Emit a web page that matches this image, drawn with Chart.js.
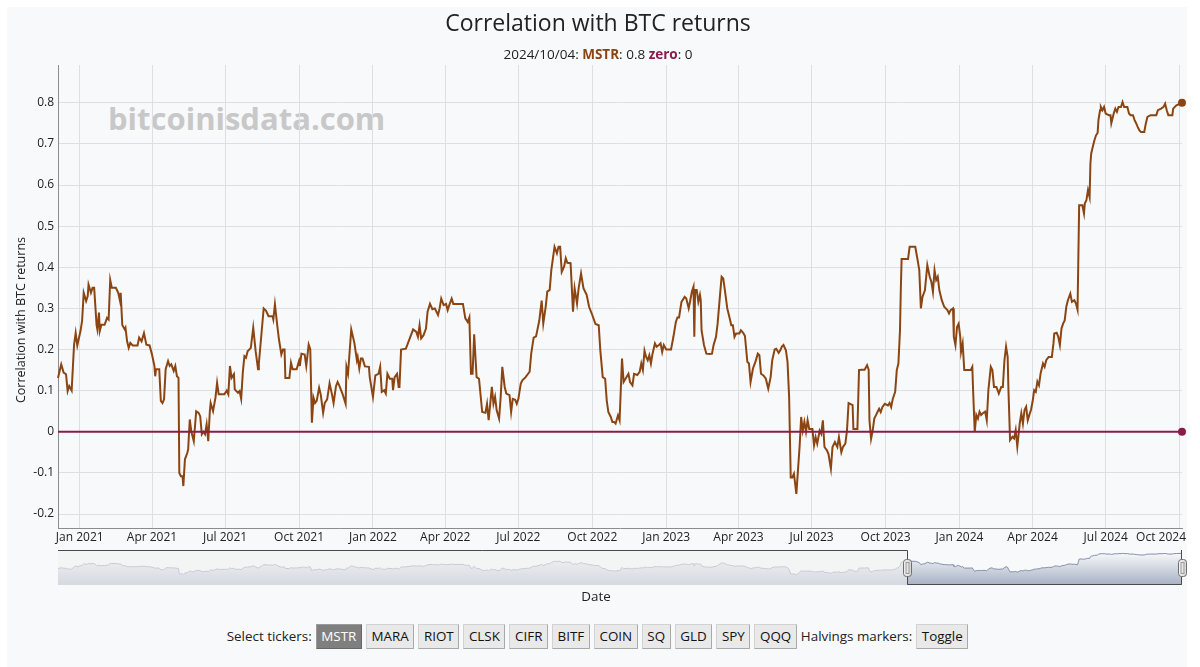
<!DOCTYPE html>
<html>
<head>
<meta charset="utf-8">
<script src="https://cdn.jsdelivr.net/npm/chart.js@4.4.1/dist/chart.umd.min.js"></script>
<style>
  html, body { margin: 0; padding: 0; background: #ffffff; width: 1200px; height: 667px; overflow: hidden; font-family: 'Open Sans', 'Noto Sans', sans-serif; }
  #panel { position: absolute; left: 7px; top: 7px; width: 1180px; height: 660px; background: #f8f9fa; }
  .abs { position: absolute; }
  #title { left: 0; width: 1196px; top: 7px; height: 30px; line-height: 30px; text-align: center; font-size: 23px; color: #222; }
  #legend { left: 0; width: 1196px; top: 45px; height: 18px; line-height: 18px; text-align: center; font-size: 13.5px; color: #222; }
  #legend b { font-weight: 700; }
  #watermark { left: 108px; top: 99px; height: 38px; line-height: 38px; font-size: 31px; font-weight: 700; color: #c8c8c8; white-space: nowrap; }
  #ylabel { left: -129px; top: 311px; width: 300px; height: 18px; line-height: 18px; text-align: center; font-size: 12.5px; color: #222; transform: rotate(-90deg); white-space: nowrap; }
  #mainWrap { left: 0; top: 0; width: 1200px; height: 545px; }
  #navWrap { left: 0; top: 548px; width: 1200px; height: 40px; }
  #xlabel { left: 0; width: 1192px; top: 587px; height: 18px; line-height: 18px; text-align: center; font-size: 13.4px; color: #222; }
  #controls { left: 0; width: 1195px; top: 623px; height: 26px; display: flex; justify-content: center; align-items: center; gap: 4px; font-size: 13.4px; color: #222; white-space: nowrap; }
  .btn { box-sizing: border-box; height: 25px; line-height: 21px; padding: 0 4.6px; font-family: inherit; font-size: 13.4px; color: #111; background: #e9e9e9; border: 1px solid; border-color: #d2d2d2 #a9a9a9 #a9a9a9 #d2d2d2; border-radius: 1px; }
  .btn.active { background: #7f7f7f; color: #ffffff; border-color: #9a9a9a #666 #666 #9a9a9a; }
</style>
</head>
<body>
<div id="panel"></div>
<div id="watermark" class="abs">bitcoinisdata.com</div>
<div id="mainWrap" class="abs"><canvas id="main" width="1200" height="545"></canvas></div>
<div id="navWrap" class="abs"><canvas id="nav" width="1200" height="40"></canvas></div>
<div id="title" class="abs">Correlation with BTC returns</div>
<div id="legend" class="abs"></div>
<div id="ylabel" class="abs">Correlation with BTC returns</div>
<div id="xlabel" class="abs">Date</div>
<div id="controls" class="abs"></div>
<script>
// ---------------- DATA ----------------
const mstrDates = [
 '2020-12-05','2020-12-09','2020-12-12','2020-12-15','2020-12-17','2020-12-19','2020-12-22','2020-12-25','2020-12-27','2020-12-29',
 '2021-01-02','2021-01-04','2021-01-06','2021-01-09','2021-01-11','2021-01-12','2021-01-15','2021-01-17','2021-01-19','2021-01-22',
 '2021-01-23','2021-01-25','2021-01-26','2021-01-28','2021-02-01','2021-02-04','2021-02-06','2021-02-08','2021-02-10','2021-02-15',
 '2021-02-18','2021-02-20','2021-02-21','2021-02-23','2021-02-26','2021-02-27','2021-03-01','2021-03-03','2021-03-05','2021-03-08',
 '2021-03-14','2021-03-16','2021-03-19','2021-03-22','2021-03-25','2021-03-29','2021-04-01','2021-04-04','2021-04-05','2021-04-06',
 '2021-04-10','2021-04-12','2021-04-14','2021-04-16','2021-04-18','2021-04-21','2021-04-23','2021-04-25','2021-04-28','2021-04-30',
 '2021-05-02','2021-05-04','2021-05-05','2021-05-07','2021-05-09','2021-05-10','2021-05-12','2021-05-15','2021-05-16','2021-05-18',
 '2021-05-20','2021-05-23','2021-05-26','2021-05-29','2021-05-31','2021-06-02','2021-06-04','2021-06-06','2021-06-08','2021-06-10',
 '2021-06-12','2021-06-13','2021-06-16','2021-06-19','2021-06-21','2021-06-23','2021-06-30','2021-07-03','2021-07-05','2021-07-07',
 '2021-07-09','2021-07-12','2021-07-13','2021-07-17','2021-07-19','2021-07-21','2021-07-23','2021-07-25','2021-07-27','2021-07-29',
 '2021-08-02','2021-08-05','2021-08-08','2021-08-11','2021-08-12','2021-08-15','2021-08-18','2021-08-21','2021-08-24','2021-08-29',
 '2021-08-30','2021-09-01','2021-09-04','2021-09-06','2021-09-09','2021-09-11','2021-09-13','2021-09-14','2021-09-19','2021-09-21',
 '2021-09-23','2021-09-28','2021-10-01','2021-10-02','2021-10-04','2021-10-08','2021-10-10','2021-10-13','2021-10-15','2021-10-17',
 '2021-10-19','2021-10-21','2021-10-23','2021-10-26','2021-10-28','2021-10-31','2021-11-02','2021-11-05','2021-11-08','2021-11-11',
 '2021-11-13','2021-11-16','2021-11-18','2021-11-20','2021-11-24','2021-11-28','2021-11-29','2021-12-01','2021-12-05','2021-12-09',
 '2021-12-12','2021-12-13','2021-12-15','2021-12-17','2021-12-19','2021-12-22','2021-12-27','2021-12-28','2022-01-01','2022-01-04',
 '2022-01-08','2022-01-10','2022-01-12','2022-01-15','2022-01-17','2022-01-19','2022-01-22','2022-01-25','2022-01-26','2022-01-28',
 '2022-01-31','2022-02-02','2022-02-03','2022-02-05','2022-02-11','2022-02-15','2022-02-20','2022-02-24','2022-02-26','2022-02-28',
 '2022-03-02','2022-03-05','2022-03-08','2022-03-10','2022-03-13','2022-03-16','2022-03-19','2022-03-23','2022-03-25','2022-03-27',
 '2022-03-30','2022-04-02','2022-04-04','2022-04-06','2022-04-09','2022-04-11','2022-04-23','2022-04-26','2022-04-29','2022-05-01',
 '2022-05-03','2022-05-05','2022-05-07','2022-05-10','2022-05-13','2022-05-17','2022-05-21','2022-05-23','2022-05-25','2022-05-27',
 '2022-05-29','2022-05-31','2022-06-02','2022-06-04','2022-06-07','2022-06-09','2022-06-11','2022-06-14','2022-06-16','2022-06-20',
 '2022-06-22','2022-06-24','2022-06-27','2022-06-29','2022-07-01','2022-07-04','2022-07-06','2022-07-10','2022-07-15','2022-07-17',
 '2022-07-20','2022-07-23','2022-07-27','2022-07-30','2022-08-01','2022-08-04','2022-08-06','2022-08-09','2022-08-11','2022-08-15',
 '2022-08-18','2022-08-20','2022-08-22','2022-08-24','2022-08-27','2022-08-29','2022-08-31','2022-09-04','2022-09-07','2022-09-09',
 '2022-09-12','2022-09-14','2022-09-17','2022-09-20','2022-09-24','2022-09-27','2022-10-01','2022-10-05','2022-10-09','2022-10-11',
 '2022-10-14','2022-10-17','2022-10-19','2022-10-21','2022-10-24','2022-10-26','2022-10-28','2022-10-30','2022-11-02','2022-11-04',
 '2022-11-07','2022-11-09','2022-11-15','2022-11-17','2022-11-20','2022-11-22','2022-11-26','2022-11-29','2022-12-01','2022-12-03',
 '2022-12-05','2022-12-07','2022-12-09','2022-12-11','2022-12-13','2022-12-15','2022-12-18','2022-12-20','2022-12-23','2022-12-25',
 '2022-12-27','2022-12-29','2023-01-01','2023-01-07','2023-01-10','2023-01-13','2023-01-15','2023-01-17','2023-01-20','2023-01-24',
 '2023-01-26','2023-01-29','2023-01-31','2023-02-02','2023-02-04','2023-02-05','2023-02-06','2023-02-08','2023-02-10','2023-02-12',
 '2023-02-13','2023-02-14','2023-02-17','2023-02-20','2023-02-24','2023-02-27','2023-03-01','2023-03-04','2023-03-06','2023-03-09',
 '2023-03-11','2023-03-13','2023-03-15','2023-03-18','2023-03-21','2023-03-23','2023-03-25','2023-03-27','2023-03-29','2023-04-02',
 '2023-04-04','2023-04-07','2023-04-09','2023-04-12','2023-04-14','2023-04-16','2023-04-19','2023-04-22','2023-04-25','2023-04-27',
 '2023-04-29','2023-05-02','2023-05-05','2023-05-08','2023-05-11','2023-05-13','2023-05-16','2023-05-18','2023-05-21','2023-05-23',
 '2023-05-25','2023-05-27','2023-05-30','2023-06-01','2023-06-03','2023-06-05','2023-06-07','2023-06-09','2023-06-12','2023-06-14',
 '2023-06-16','2023-06-18','2023-06-20','2023-06-22','2023-06-24','2023-06-26','2023-06-28','2023-07-02','2023-07-04','2023-07-06',
 '2023-07-08','2023-07-11','2023-07-13','2023-07-15','2023-07-17','2023-07-20','2023-07-22','2023-07-25','2023-07-27','2023-07-30',
 '2023-08-02','2023-08-04','2023-08-07','2023-08-09','2023-08-12','2023-08-14','2023-08-16','2023-08-21','2023-08-22','2023-08-27',
 '2023-08-29','2023-09-01','2023-09-05','2023-09-08','2023-09-10','2023-09-11','2023-09-13','2023-09-15','2023-09-17','2023-09-19',
 '2023-09-21','2023-09-23','2023-09-25','2023-09-27','2023-09-30','2023-10-04','2023-10-06','2023-10-08','2023-10-10','2023-10-13',
 '2023-10-15','2023-10-17','2023-10-19','2023-10-20','2023-10-21','2023-10-29','2023-10-31','2023-11-07','2023-11-10','2023-11-12',
 '2023-11-14','2023-11-16','2023-11-19','2023-11-22','2023-11-25','2023-11-27','2023-11-29','2023-12-01','2023-12-03','2023-12-05',
 '2023-12-07','2023-12-10','2023-12-13','2023-12-17','2023-12-19','2023-12-21','2023-12-24','2023-12-25','2023-12-27','2023-12-29',
 '2023-12-31','2024-01-02','2024-01-03','2024-01-05','2024-01-07','2024-01-15','2024-01-17','2024-01-18','2024-01-20','2024-01-22',
 '2024-01-24','2024-01-26','2024-01-28','2024-01-30','2024-02-02','2024-02-04','2024-02-06','2024-02-09','2024-02-11','2024-02-13',
 '2024-02-16','2024-02-19','2024-02-22','2024-02-24','2024-02-26','2024-02-28','2024-03-01','2024-03-02','2024-03-04','2024-03-07',
 '2024-03-09','2024-03-11','2024-03-13','2024-03-16','2024-03-18','2024-03-20','2024-03-22','2024-03-24','2024-03-26','2024-03-28',
 '2024-03-30','2024-04-01','2024-04-03','2024-04-05','2024-04-07','2024-04-09','2024-04-11','2024-04-14','2024-04-16','2024-04-18',
 '2024-04-21','2024-04-25','2024-04-27','2024-04-28','2024-05-01','2024-05-03','2024-05-05','2024-05-07','2024-05-09','2024-05-11',
 '2024-05-13','2024-05-15','2024-05-18','2024-05-20','2024-05-23','2024-05-25','2024-05-27','2024-05-28','2024-05-29','2024-06-02',
 '2024-06-04','2024-06-05','2024-06-07','2024-06-09','2024-06-11','2024-06-12','2024-06-13','2024-06-15','2024-06-17','2024-06-19',
 '2024-06-21','2024-06-22','2024-06-24','2024-06-25','2024-06-27','2024-06-29','2024-07-01','2024-07-05','2024-07-07','2024-07-08',
 '2024-07-11','2024-07-13','2024-07-15','2024-07-17','2024-07-20','2024-07-22','2024-07-24','2024-07-28','2024-07-30','2024-08-01',
 '2024-08-04','2024-08-06','2024-08-08','2024-08-10','2024-08-12','2024-08-14','2024-08-18','2024-08-20','2024-08-22','2024-08-26',
 '2024-09-02','2024-09-04','2024-09-08','2024-09-11','2024-09-13','2024-09-15','2024-09-17','2024-09-22','2024-09-23','2024-09-27',
 '2024-10-04'
];
const mstrValues = [
 0.131,0.164,0.144,0.14,0.099,0.111,0.10,0.212,0.24,0.21,
 0.245,0.27,0.338,0.318,0.33,0.358,0.338,0.35,0.35,0.26,
 0.249,0.29,0.245,0.26,0.26,0.277,0.273,0.369,0.35,0.35,
 0.338,0.32,0.338,0.26,0.249,0.253,0.22,0.204,0.216,0.21,
 0.21,0.229,0.22,0.24,0.212,0.21,0.188,0.16,0.135,0.152,
 0.152,0.075,0.07,0.079,0.152,0.172,0.16,0.164,0.148,0.16,
 0.135,0.131,-0.10,-0.108,-0.108,-0.132,-0.067,-0.051,-0.043,0.03,
 0.0,-0.023,0.05,0.046,0.038,-0.006,0.0,-0.006,0.018,-0.023,
 0.05,0.07,0.05,0.083,0.119,0.091,0.091,0.10,0.091,0.16,
 0.131,0.14,0.103,0.095,0.099,0.08,0.144,0.184,0.18,0.196,
 0.204,0.253,0.196,0.152,0.166,0.233,0.30,0.294,0.281,0.281,
 0.273,0.31,0.257,0.225,0.188,0.20,0.20,0.131,0.131,0.168,
 0.152,0.152,0.172,0.16,0.19,0.188,0.16,0.212,0.20,0.022,
 0.083,0.07,0.075,0.107,0.091,0.046,0.07,0.079,0.118,0.091,
 0.07,0.111,0.121,0.113,0.093,0.068,0.158,0.141,0.249,0.215,
 0.174,0.182,0.154,0.178,0.178,0.159,0.158,0.133,0.085,0.137,
 0.141,0.158,0.097,0.101,0.093,0.141,0.129,0.129,0.101,0.133,
 0.141,0.109,0.109,0.2,0.202,0.223,0.249,0.243,0.231,0.259,
 0.227,0.235,0.251,0.292,0.311,0.298,0.3,0.284,0.3,0.324,
 0.308,0.311,0.296,0.308,0.324,0.311,0.311,0.276,0.267,0.278,
 0.141,0.141,0.237,0.133,0.129,0.048,0.046,0.068,0.028,0.068,
 0.109,0.068,0.085,0.052,0.032,0.085,0.158,0.109,0.093,0.089,
 0.048,0.08,0.078,0.068,0.08,0.117,0.125,0.133,0.146,0.19,
 0.229,0.232,0.27,0.319,0.263,0.304,0.341,0.345,0.393,0.45,
 0.434,0.45,0.45,0.389,0.402,0.422,0.411,0.41,0.292,0.349,
 0.312,0.349,0.385,0.349,0.333,0.304,0.284,0.262,0.259,0.198,
 0.133,0.129,0.076,0.048,0.036,0.024,0.024,0.02,0.04,0.028,
 0.178,0.121,0.141,0.121,0.113,0.141,0.138,0.146,0.166,0.15,
 0.197,0.182,0.174,0.186,0.166,0.19,0.215,0.207,0.211,0.215,
 0.194,0.211,0.2,0.2,0.231,0.267,0.278,0.278,0.316,0.328,
 0.324,0.3,0.32,0.341,0.353,0.231,0.345,0.345,0.316,0.333,
 0.32,0.247,0.211,0.19,0.189,0.19,0.211,0.231,0.263,0.333,
 0.377,0.373,0.345,0.3,0.276,0.259,0.259,0.231,0.239,0.239,
 0.247,0.24,0.233,0.17,0.166,0.121,0.154,0.17,0.19,0.186,
 0.141,0.137,0.129,0.105,0.133,0.174,0.2,0.202,0.192,0.198,
 0.207,0.211,0.198,0.17,0.085,-0.111,-0.111,-0.102,-0.151,-0.094,
 -0.037,0.036,0.003,0.024,0.0,0.028,0.007,0.007,-0.033,-0.013,
 -0.029,0.003,-0.005,0.028,-0.037,-0.045,-0.054,-0.09,-0.037,-0.025,
 -0.037,-0.013,-0.05,-0.037,-0.029,0.003,0.07,0.065,0.007,0.007,
 0.15,0.151,0.151,0.162,0.151,0.028,-0.017,0.003,0.032,0.04,
 0.048,0.056,0.048,0.06,0.068,0.064,0.07,0.06,0.08,0.097,
 0.15,0.166,0.247,0.345,0.42,0.42,0.45,0.45,0.417,0.393,
 0.3,0.328,0.344,0.405,0.377,0.365,0.34,0.393,0.369,0.377,
 0.344,0.32,0.304,0.296,0.288,0.296,0.3,0.231,0.211,0.255,
 0.263,0.231,0.194,0.215,0.15,0.15,0.158,0.101,0.0,0.041,
 0.032,0.049,0.041,0.045,0.049,0.028,0.101,0.158,0.15,0.109,
 0.109,0.093,0.109,0.109,0.174,0.207,0.182,0.101,-0.02,-0.012,
 -0.016,0.004,-0.036,0.02,0.045,0.02,0.053,0.061,0.028,0.041,
 0.053,0.073,0.101,0.097,0.122,0.113,0.142,0.166,0.158,0.174,
 0.182,0.182,0.215,0.239,0.241,0.231,0.211,0.251,0.263,0.271,
 0.304,0.32,0.336,0.316,0.32,0.312,0.297,0.425,0.551,0.551,
 0.531,0.555,0.563,0.588,0.571,0.652,0.677,0.693,0.709,0.721,
 0.727,0.758,0.782,0.79,0.782,0.79,0.774,0.77,0.77,0.75,
 0.774,0.786,0.778,0.79,0.79,0.802,0.79,0.79,0.774,0.77,
 0.77,0.758,0.75,0.741,0.733,0.729,0.729,0.75,0.766,0.77,
 0.77,0.782,0.786,0.79,0.798,0.782,0.77,0.77,0.786,0.794,
 0.8
];
const zeroDates = ['2020-12-05', '2024-10-04'];
const zeroValues = [0, 0];

const xTickDates = ['2021-01-01','2021-04-01','2021-07-01','2021-10-01','2022-01-01','2022-04-01','2022-07-01','2022-10-01',
                    '2023-01-01','2023-04-01','2023-07-01','2023-10-01','2024-01-01','2024-04-01','2024-07-01','2024-10-01'];
const xTickLabels = ['Jan 2021','Apr 2021','Jul 2021','Oct 2021','Jan 2022','Apr 2022','Jul 2022','Oct 2022',
                     'Jan 2023','Apr 2023','Jul 2023','Oct 2023','Jan 2024','Apr 2024','Jul 2024','Oct 2024'];
const yTickValues = [-0.2, -0.1, 0, 0.1, 0.2, 0.3, 0.4, 0.5, 0.6, 0.7, 0.8];
const yTickLabels = ['-0.2', '-0.1', '0', '0.1', '0.2', '0.3', '0.4', '0.5', '0.6', '0.7', '0.8'];
const yMin = -0.234, yMax = 0.892;
const navWindow = ['2023-10-28', '2024-10-04'];
const tickerButtons = ['MSTR','MARA','RIOT','CLSK','CIFR','BITF','COIN','SQ','GLD','SPY','QQQ'];
const activeTicker = 'MSTR';
const legendDate = '2024/10/04';

// ---------------- STYLE ----------------
const MSTR_COLOR = '#8b4513';
const ZERO_COLOR = '#8a1c4c';
const GRID = '#dcdfe3';
const AXIS = '#8c8c8c';
const FONT = "'Open Sans', 'Noto Sans', sans-serif";

function t(s) { const p = s.split('-').map(Number); return Date.UTC(p[0], p[1] - 1, p[2]); }

// legend line
const lastM = mstrValues[mstrValues.length - 1];
document.getElementById('legend').innerHTML =
  legendDate + ': <b style="color:' + MSTR_COLOR + '">MSTR</b>: ' + lastM +
  ' <b style="color:' + ZERO_COLOR + '">zero</b>: ' + zeroValues[zeroValues.length - 1];

// controls
const ctl = document.getElementById('controls');
ctl.appendChild(Object.assign(document.createElement('span'), { textContent: 'Select tickers:' }));
tickerButtons.forEach(n => {
  const b = document.createElement('button');
  b.className = 'btn' + (n === activeTicker ? ' active' : '');
  b.textContent = n;
  ctl.appendChild(b);
});
ctl.appendChild(Object.assign(document.createElement('span'), { textContent: 'Halvings markers:' }));
const tg = document.createElement('button'); tg.className = 'btn'; tg.textContent = 'Toggle'; ctl.appendChild(tg);

const mstrData = mstrDates.map((d, i) => ({ x: t(d), y: mstrValues[i] }));
const zeroData = zeroDates.map((d, i) => ({ x: t(d), y: zeroValues[i] }));
const xMin = t(mstrDates[0]), xMax = t(mstrDates[mstrDates.length - 1]);

const xLabelPlugin = {
  id: 'xLabels',
  afterDraw(chart) {
    const s = chart.scales.x, ca = chart.chartArea, c = chart.ctx;
    c.save();
    c.font = '12px ' + FONT;
    c.fillStyle = '#222';
    c.textBaseline = 'middle';
    c.textAlign = 'left';
    s.ticks.forEach((tk, i) => {
      const label = xTickLabels[i];
      const w = c.measureText(label).width;
      let left = s.getPixelForValue(tk.value) - w / 2;
      const maxRight = ca.right + 4;
      if (left + w > maxRight) left = maxRight - w;
      c.fillText(label, left, ca.bottom + 10);
    });
    c.restore();
  }
};

new Chart(document.getElementById('main'), {
  type: 'line',
  data: {
    datasets: [
      { label: 'zero', data: zeroData, borderColor: ZERO_COLOR, borderWidth: 2, tension: 0,
        pointRadius: ctx => ctx.dataIndex === zeroData.length - 1 ? 4 : 0,
        pointBackgroundColor: ZERO_COLOR, pointBorderWidth: 0, clip: 10 },
      { label: 'MSTR', data: mstrData, borderColor: MSTR_COLOR, borderWidth: 2, tension: 0,
        pointRadius: ctx => ctx.dataIndex === mstrData.length - 1 ? 4 : 0,
        pointBackgroundColor: MSTR_COLOR, pointBorderWidth: 0, clip: 10 }
    ]
  },
  options: {
    responsive: false, animation: false, events: [],
    layout: { padding: { left: 0, right: 18, top: 65, bottom: 17 } },
    plugins: { legend: { display: false }, tooltip: { enabled: false }, title: { display: false } },
    scales: {
      x: {
        type: 'linear', min: xMin, max: xMax,
        ticks: { display: false },
        afterBuildTicks: s => { s.ticks = xTickDates.map(d => ({ value: t(d) })); },
        afterFit: s => { s.height = 0; s.paddingLeft = 0; s.paddingRight = 0; },
        grid: { color: GRID, lineWidth: 1, drawTicks: false },
        border: { display: true, color: AXIS, width: 1 }
      },
      y: {
        type: 'linear', min: yMin, max: yMax,
        afterBuildTicks: s => { s.ticks = yTickValues.map(v => ({ value: v })); },
        afterFit: s => { s.width = 58; s.paddingTop = 0; s.paddingBottom = 0; },
        ticks: { callback: (v, i) => yTickLabels[i], font: { family: FONT, size: 12 }, color: '#222', padding: 4 },
        grid: { color: GRID, lineWidth: 1, drawTicks: false },
        border: { display: true, color: AXIS, width: 1 }
      }
    }
  },
  plugins: [xLabelPlugin]
});

// ---------------- NAVIGATOR ----------------
const navOverlay = {
  id: 'navOverlay',
  afterDatasetsDraw(chart) {
    const ca = chart.chartArea, s = chart.scales.x, c = chart.ctx;
    const xs = Math.round(s.getPixelForValue(t(navWindow[0])));
    const xe = Math.round(s.getPixelForValue(t(navWindow[1])));
    c.save();
    c.fillStyle = 'rgba(240,240,240,0.62)';
    c.fillRect(ca.left, ca.top, xs - ca.left, ca.bottom - ca.top);
    c.strokeStyle = '#4a4a4a';
    c.lineWidth = 1;
    c.beginPath();
    c.moveTo(ca.left, Math.round(ca.top) + 0.5);
    c.lineTo(xs + 0.5, Math.round(ca.top) + 0.5);
    c.lineTo(xs + 0.5, Math.round(ca.bottom) - 0.5);
    c.lineTo(xe - 0.5, Math.round(ca.bottom) - 0.5);
    c.lineTo(xe - 0.5, Math.round(ca.top));
    c.stroke();
    const mid = (ca.top + ca.bottom) / 2;
    [xs, xe].forEach(x => {
      const w = 8, h = 17, l = x - w / 2 + 0.5, tp = Math.round(mid - h / 2) + 0.5;
      const g = c.createLinearGradient(l, 0, l + w, 0);
      g.addColorStop(0, '#f4f4f4'); g.addColorStop(1, '#d6d6d6');
      c.fillStyle = g;
      c.strokeStyle = '#6e6e6e';
      c.beginPath();
      c.roundRect(l, tp, w, h, 3);
      c.fill(); c.stroke();
      c.strokeStyle = '#9a9a9a';
      c.strokeRect(l + 2.5, tp + 3, w - 5, h - 6);
    });
    c.restore();
  }
};

new Chart(document.getElementById('nav'), {
  type: 'line',
  data: {
    datasets: [{
      data: mstrData, borderColor: '#808fab', borderWidth: 1, tension: 0, pointRadius: 0,
      fill: 'start',
      backgroundColor: ctx => {
        const ca = ctx.chart.chartArea;
        if (!ca) return '#c3cad7';
        const g = ctx.chart.ctx.createLinearGradient(0, ca.top, 0, ca.bottom);
        g.addColorStop(0, '#ffffff'); g.addColorStop(1, '#a7b1c4');
        return g;
      }
    }]
  },
  options: {
    responsive: false, animation: false, events: [],
    layout: { padding: { left: 58, right: 18, top: 2, bottom: 3 } },
    plugins: { legend: { display: false }, tooltip: { enabled: false } },
    scales: {
      x: { type: 'linear', min: xMin, max: xMax, display: false },
      y: { type: 'linear', min: -0.6, max: 0.95, display: false }
    }
  },
  plugins: [navOverlay]
});
</script>
</body>
</html>
